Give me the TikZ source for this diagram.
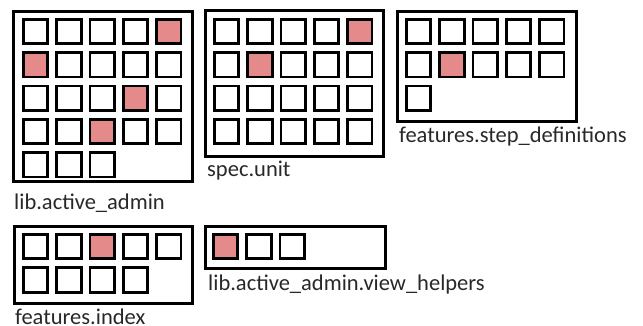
\documentclass[tikz,border=0pt]{standalone}
\usepackage{fontspec}
\setmainfont{Carlito}
\definecolor{hit}{RGB}{228,138,138}
\definecolor{lbltext}{RGB}{40,40,40}
\tikzset{
  cellbox/.style={draw=black,line width=2.8pt,fill=white},
  hitcell/.style={cellbox,fill=hit},
  pkg/.style={draw=black,line width=2.8pt},
  lbl/.style={anchor=base west,inner sep=0pt,font=\fontsize{22.5}{25}\selectfont,text=lbltext}
}
% #1,#2: top-left of first cell; #3: row; #4: col; #5: style
\newcommand\gridcell[5]{%
  \draw[#5] ({#1+1.4+33.3*#4},{#2+1.4+33.3*#3}) rectangle ++(24.4,24.4);}
\begin{document}
\begin{tikzpicture}[x=1pt,y=-1pt]
\useasboundingbox (0,0) rectangle (643,326);

% lib.active_admin
\draw[pkg] (13.4,11.4) rectangle (192.6,181.6);
\foreach \r/\c in {0/0,0/1,0/2,0/3,1/1,1/2,1/3,1/4,2/0,2/1,2/2,2/4,3/0,3/1,3/3,3/4,4/0,4/1,4/2}
  {\gridcell{22}{18}{\r}{\c}{cellbox}}
\foreach \r/\c in {0/4,1/0,2/3,3/2}
  {\gridcell{22}{18}{\r}{\c}{hitcell}}
\node[lbl] (la) at (14,210) {lib.active\_admin};

% spec.unit
\draw[pkg] (205.4,10.4) rectangle (383.6,156.6);
\foreach \r in {0,1,2,3}
  \foreach \c in {0,...,4}
    {\gridcell{213}{18}{\r}{\c}{cellbox}}
\foreach \r/\c in {0/4,1/1}
  {\gridcell{213}{18}{\r}{\c}{hitcell}}
\node[lbl] (su) at (207,177) {spec.unit};

% features.step_definitions
\draw[pkg] (397.4,11.4) rectangle (576.6,121.6);
\foreach \r/\c in {0/0,0/1,0/2,0/3,0/4,1/0,1/2,1/3,1/4,2/0}
  {\gridcell{405}{18}{\r}{\c}{cellbox}}
\gridcell{405}{18}{1}{1}{hitcell}
\node[lbl] (fs) at (399,143) {features.step\_definitions};

% features.index
\draw[pkg] (14.4,226.4) rectangle (192.6,303.6);
\foreach \r/\c in {0/0,0/1,0/3,0/4,1/0,1/1,1/2,1/3}
  {\gridcell{22}{233}{\r}{\c}{cellbox}}
\gridcell{22}{233}{0}{2}{hitcell}
\node[lbl] (fi) at (15,324) {features.index};

% lib.active_admin.view_helpers
\draw[pkg] (205.4,226.4) rectangle (385.6,268.6);
\foreach \c in {1,2}
  {\gridcell{212}{233}{0}{\c}{cellbox}}
\gridcell{212}{233}{0}{0}{hitcell}
\node[lbl] (vh) at (208,290) {lib.active\_admin.view\_helpers};
\end{tikzpicture}
\end{document}
